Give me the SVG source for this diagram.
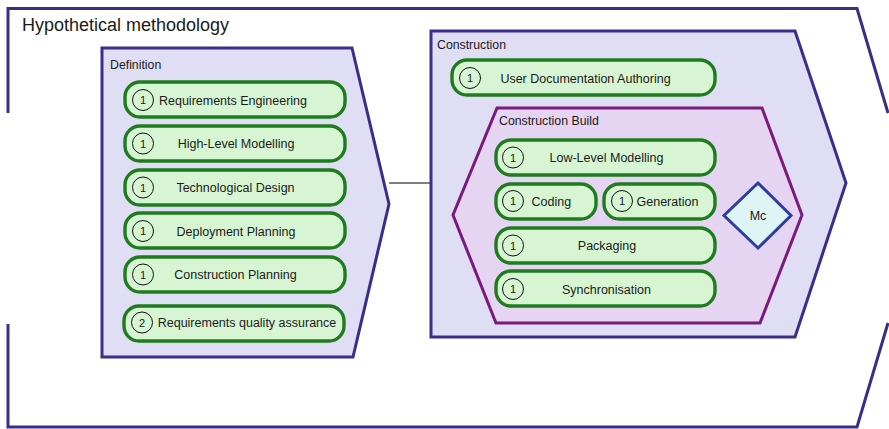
<svg xmlns="http://www.w3.org/2000/svg" width="889" height="429" viewBox="0 0 889 429">
<style>
text{font-family:"Liberation Sans",Arial,sans-serif;fill:#1a1a1a}
.frame{fill:none;stroke:#3b2d8b;stroke-width:3}
.phase{fill:#dfdef5;stroke:#3b2d8b;stroke-width:3}
.build{fill:#e6d4f3;stroke:#7b1a7b;stroke-width:3}
.pill{fill:#d7f5d3;stroke:#1e7b1e;stroke-width:3.4}
.num{fill:none;stroke:#111;stroke-width:1}
.lbl{font-size:12.3px}
.ptxt{font-size:12.5px;text-anchor:middle}
.ltxt{font-size:12.5px}
.ntxt{font-size:11px;text-anchor:middle}
.mc{fill:#dff4f4;stroke:#2e3e9a;stroke-width:3}
</style>
<rect width="889" height="429" fill="#fff"/>
<g id="hypothetical-methodology">
<path class="frame" d="M8,113 V8.5 H857 L888,113"/>
<path class="frame" d="M8,324 V427 H857 L888,323"/>
<text x="22" y="31" style="font-size:18px">Hypothetical methodology</text>
</g>
<g id="connectors">
<line x1="389" y1="183" x2="431" y2="183" stroke="#000" stroke-width="1"/>
</g>
<g id="definition">
<path class="phase" d="M102,48 H352 L389,204 L353,357 H102 Z"/>
<text class="lbl" x="110" y="69">Definition</text>
</g>
<g id="requirements-engineering">
<rect class="pill" x="125" y="82" width="220" height="35" rx="15"/>
<circle class="num" cx="143" cy="100" r="10.5"/><text class="ntxt" x="143" y="104">1</text>
<text class="ptxt" x="233" y="104.5">Requirements Engineering</text>
</g>
<g id="high-level-modelling">
<rect class="pill" x="125" y="126" width="220" height="35" rx="15"/>
<circle class="num" cx="143" cy="143.5" r="10.5"/><text class="ntxt" x="143" y="147.5">1</text>
<text class="ptxt" x="236" y="148">High-Level Modelling</text>
</g>
<g id="technological-design">
<rect class="pill" x="125" y="170" width="220" height="35" rx="15"/>
<circle class="num" cx="143" cy="187.5" r="10.5"/><text class="ntxt" x="143" y="191.5">1</text>
<text class="ptxt" x="235.5" y="192">Technological Design</text>
</g>
<g id="deployment-planning">
<rect class="pill" x="125" y="213" width="220" height="35" rx="15"/>
<circle class="num" cx="143" cy="231" r="10.5"/><text class="ntxt" x="143" y="235">1</text>
<text class="ptxt" x="236" y="236">Deployment Planning</text>
</g>
<g id="construction-planning">
<rect class="pill" x="125" y="257" width="220" height="35" rx="15"/>
<circle class="num" cx="143" cy="274.5" r="10.5"/><text class="ntxt" x="143" y="278.5">1</text>
<text class="ptxt" x="235.5" y="279">Construction Planning</text>
</g>
<g id="requirements-quality-assurance">
<rect class="pill" x="124" y="306" width="220" height="35" rx="15"/>
<circle class="num" cx="142" cy="322.5" r="10.5"/><text class="ntxt" x="142" y="326.5">2</text>
<text class="ptxt" x="247" y="327">Requirements quality assurance</text>
</g>
<g id="construction">
<path class="phase" d="M431,31 H795 L846,183 L795,337 H431 Z"/>
<text class="lbl" x="437" y="49">Construction</text>
</g>
<g id="user-documentation-authoring">
<rect class="pill" x="452" y="60" width="263" height="35" rx="15"/>
<circle class="num" cx="470" cy="78" r="10.5"/><text class="ntxt" x="470" y="82">1</text>
<text class="ptxt" x="585.5" y="82.5">User Documentation Authoring</text>
</g>
<g id="construction-build">
<path class="build" d="M497,108 H762 L802,215 L760,323 H496 L453,215 Z"/>
<text class="lbl" x="499" y="125">Construction Build</text>
</g>
<g id="low-level-modelling">
<rect class="pill" x="496" y="140" width="219" height="35" rx="15"/>
<circle class="num" cx="513" cy="157.5" r="10.5"/><text class="ntxt" x="513" y="161.5">1</text>
<text class="ptxt" x="606.5" y="162">Low-Level Modelling</text>
</g>
<g id="coding">
<rect class="pill" x="496" y="184" width="100" height="35" rx="15"/>
<circle class="num" cx="513" cy="201" r="10.5"/><text class="ntxt" x="513" y="205">1</text>
<text class="ltxt" x="531.5" y="205.5">Coding</text>
</g>
<g id="generation">
<rect class="pill" x="604" y="184" width="111" height="35" rx="15"/>
<circle class="num" cx="622" cy="201" r="10.5"/><text class="ntxt" x="622" y="205">1</text>
<text class="ltxt" x="636.5" y="205.5">Generation</text>
</g>
<g id="packaging">
<rect class="pill" x="496" y="228" width="219" height="35" rx="15"/>
<circle class="num" cx="513" cy="245.5" r="10.5"/><text class="ntxt" x="513" y="249.5">1</text>
<text class="ptxt" x="607" y="250">Packaging</text>
</g>
<g id="synchronisation">
<rect class="pill" x="496" y="271" width="219" height="35" rx="15"/>
<circle class="num" cx="513" cy="289" r="10.5"/><text class="ntxt" x="513" y="293">1</text>
<text class="ptxt" x="606.5" y="293.5">Synchronisation</text>
</g>
<g id="mc">
<path class="mc" d="M758,183 L791,215.5 L758,248 L724,215.5 Z"/>
<text class="ptxt" x="758" y="220">Mc</text>
</g>
</svg>
